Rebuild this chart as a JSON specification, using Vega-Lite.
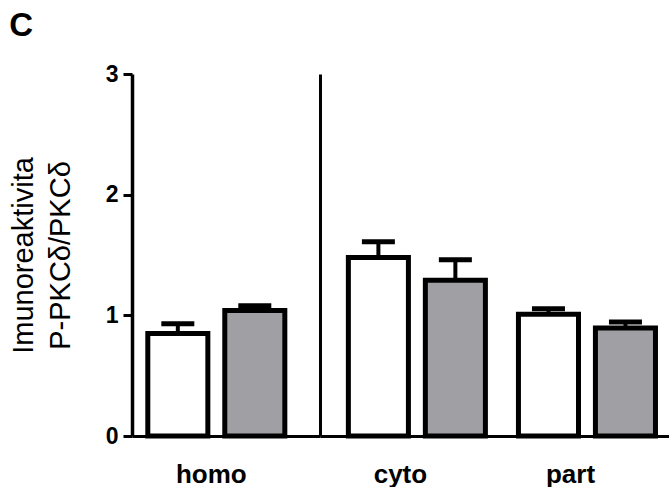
{
  "$schema": "https://vega.github.io/schema/vega-lite/v6.json",
  "padding": {"left": 9, "top": 10, "right": 0, "bottom": 0},
  "background": "white",
  "title": {"text": "C", "anchor": "start", "frame": "bounds", "fontSize": 33, "font": "Liberation Sans", "fontWeight": "bold", "color": "black", "offset": 20, "dx": 0},
  "data": {"values": [
    {"region": "homo", "group": "control", "mean": 0.85, "upper": 0.93},
    {"region": "homo", "group": "treated", "mean": 1.04, "upper": 1.08},
    {"region": "cyto", "group": "control", "mean": 1.48, "upper": 1.61},
    {"region": "cyto", "group": "treated", "mean": 1.29, "upper": 1.46},
    {"region": "part", "group": "control", "mean": 1.01, "upper": 1.054},
    {"region": "part", "group": "treated", "mean": 0.894, "upper": 0.944}
  ]},
  "spacing": 0,
  "bounds": "flush",
  "config": {
    "view": {"stroke": null},
    "axis": {"domainColor": "black", "tickColor": "black", "labelColor": "black", "titleColor": "black", "labelFont": "Liberation Sans", "titleFont": "Liberation Sans", "grid": false}
  },
  "hconcat": [
    {
      "width": 188,
      "height": 362,
      "transform": [{"filter": "datum.region == 'homo'"}],
      "encoding": {
        "x": {"field": "region", "type": "nominal", "scale": {"paddingInner": 0, "paddingOuter": 0.186, "align": 0.31},
          "axis": {"title": null, "ticks": false, "labelAngle": 0, "labelFontSize": 26, "labelFontWeight": "bold", "labelPadding": 25, "labelOffset": -5, "domainWidth": 3}},
        "xOffset": {"field": "group", "type": "nominal", "sort": ["control", "treated"], "scale": {"paddingInner": 0.22, "paddingOuter": 0}}
      },
      "layer": [
        {"mark": {"type": "bar", "stroke": "black", "strokeWidth": 5},
         "encoding": {
           "y": {"field": "mean", "type": "quantitative", "scale": {"domain": [0, 3], "nice": false},
             "axis": {"values": [0, 1, 2, 3], "format": "d", "title": ["Imunoreaktivita", "P-PKCδ/PKCδ"], "titleFontSize": 29, "titleFontWeight": "normal", "titleLineHeight": 37, "labelFontSize": 23, "labelFontWeight": "bold", "tickSize": 9, "tickWidth": 3, "domainWidth": 3.5, "labelPadding": 5, "titlePadding": 30}},
           "color": {"field": "group", "type": "nominal", "scale": {"domain": ["control", "treated"], "range": ["#ffffff", "#a09fa4"]}, "legend": null}
         }},
        {"mark": {"type": "rule", "strokeWidth": 4, "color": "black"},
         "encoding": {"y": {"field": "mean", "type": "quantitative"}, "y2": {"field": "upper"}}},
        {"mark": {"type": "tick", "size": 33, "thickness": 5, "color": "black", "opacity": 1},
         "encoding": {"y": {"field": "upper", "type": "quantitative"}}}
      ]
    },
    {
      "width": 349,
      "height": 362,
      "transform": [{"filter": "datum.region != 'homo'"}],
      "encoding": {
        "x": {"field": "region", "type": "nominal", "sort": ["cyto", "part"], "scale": {"paddingInner": 0.188, "paddingOuter": 0.12, "align": 0.695},
          "axis": {"title": null, "ticks": false, "labelAngle": 0, "labelFontSize": 26, "labelFontWeight": "bold", "labelPadding": 25, "labelOffset": -17, "domainWidth": 3}},
        "xOffset": {"field": "group", "type": "nominal", "sort": ["control", "treated"], "scale": {"paddingInner": 0.23, "paddingOuter": 0}}
      },
      "layer": [
        {"mark": {"type": "bar", "stroke": "black", "strokeWidth": 5},
         "encoding": {
           "y": {"field": "mean", "type": "quantitative", "scale": {"domain": [0, 3], "nice": false},
             "axis": {"values": [0, 1, 2, 3], "title": null, "labels": false, "ticks": false, "domainWidth": 3}},
           "color": {"field": "group", "type": "nominal", "scale": {"domain": ["control", "treated"], "range": ["#ffffff", "#a09fa4"]}, "legend": null}
         }},
        {"mark": {"type": "rule", "strokeWidth": 4, "color": "black"},
         "encoding": {"y": {"field": "mean", "type": "quantitative"}, "y2": {"field": "upper"}}},
        {"mark": {"type": "tick", "size": 33, "thickness": 5, "color": "black", "opacity": 1},
         "encoding": {"y": {"field": "upper", "type": "quantitative"}}}
      ]
    }
  ]
}
